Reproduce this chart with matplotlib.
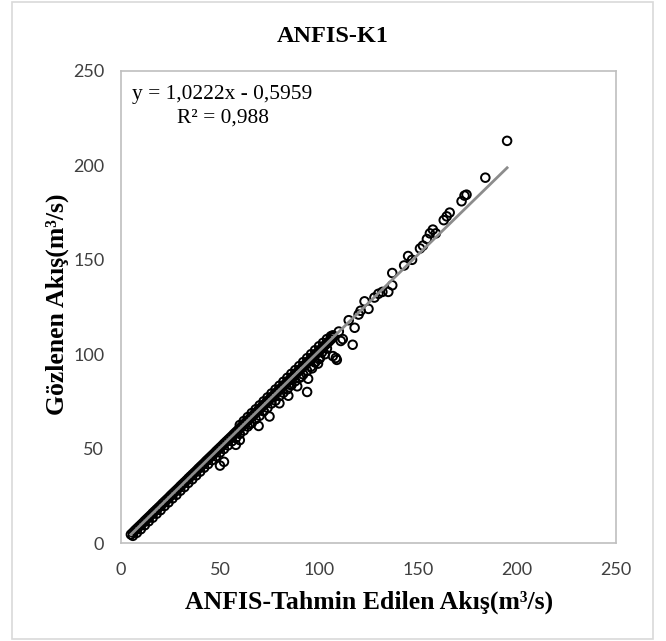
import matplotlib
matplotlib.use("Agg")
import matplotlib.pyplot as plt
from matplotlib.patches import Rectangle

# main band of points (predicted, observed)
band_pred = [5, 6, 7, 8, 9, 10, 11, 12, 13, 14, 15, 16, 17, 18, 19, 20, 21, 22, 23, 24,
             25, 26, 27, 28, 29, 30, 31, 32, 33, 34, 35, 36, 37, 38, 39, 40, 41, 42, 43, 44,
             45, 46, 47, 48, 49, 50, 51, 52, 53, 54, 55, 56, 57, 58, 59, 60, 61, 62, 63, 64,
             65, 66, 67, 68, 69, 70, 71, 72, 73, 74, 75, 76, 77, 78, 79, 80, 81, 82, 83, 84,
             85, 86, 87, 88, 89, 90, 91, 92, 93, 94, 95, 96, 97, 98, 99, 100, 101, 102, 103,
             104, 105, 106, 107]
band_obs = [4.5, 5.5, 6.6, 7.6, 8.6, 9.6, 10.6, 11.7, 12.7, 13.7, 14.7, 15.8, 16.8, 17.8,
            18.8, 19.8, 20.9, 21.9, 22.9, 23.9, 25.0, 26.0, 27.0, 28.0, 29.0, 30.1, 31.1,
            32.1, 33.1, 34.2, 35.2, 36.2, 37.2, 38.2, 39.3, 40.3, 41.3, 42.3, 43.4, 44.4,
            45.4, 46.4, 47.4, 48.5, 49.5, 50.5, 51.5, 52.6, 53.6, 54.6, 55.6, 56.6, 57.7,
            58.7, 59.7, 60.7, 61.8, 62.8, 63.8, 64.8, 65.8, 66.9, 67.9, 68.9, 69.9, 70.9,
            72.0, 73.0, 74.0, 75.0, 76.1, 77.1, 78.1, 79.1, 80.2, 81.2, 82.2, 83.2, 84.2,
            85.3, 86.3, 87.3, 88.3, 89.4, 90.4, 91.4, 92.4, 93.4, 94.5, 95.5, 96.5, 97.5,
            98.6, 99.6, 100.6, 101.6, 102.6, 103.7, 104.7, 105.7, 106.7, 107.8, 108.8]

low_pred = [6, 8, 10, 12, 14, 16, 18, 20, 22, 24, 26, 28, 30, 32, 34, 36, 38, 40, 42, 44,
            46, 48, 50, 52, 54, 56, 58, 60, 62, 64, 66, 68, 70, 72, 74, 76, 78, 80, 82, 84,
            86, 88, 90, 92, 94, 96, 98, 100]
low_obs = [3.8, 5.4, 7.3, 9.4, 11.5, 13.4, 15.5, 17.4, 19.6, 21.5, 23.6, 25.5, 27.7, 29.6,
           31.8, 33.7, 35.8, 37.8, 39.9, 41.8, 43.9, 45.9, 47.9, 49.8, 51.7, 53.9, 55.6,
           57.8, 59.6, 61.7, 63.5, 65.6, 67.4, 69.8, 71.6, 73.9, 75.4, 77.8, 79.6, 81.4,
           83.5, 85.7, 87.4, 89.3, 91.2, 93.4, 95.6, 97.4]

up_pred = [60, 62, 64, 66, 68, 70, 72, 74, 76, 78, 80, 82, 84, 86, 88, 90, 92, 94, 96, 98,
           100, 102, 104, 106]
up_obs = [62.5, 64.6, 66.7, 68.8, 70.8, 72.9, 75.0, 77.1, 79.2, 81.3, 83.3, 85.4, 87.5,
          89.6, 91.6, 93.7, 95.8, 97.9, 100.0, 102.1, 104.2, 106.0, 108.0, 109.5]

# scattered points
sc_pred = [195, 184, 173.5, 174.5, 172, 166, 164.5, 163, 157.5, 156, 154.5, 152.5, 151,
           145, 143, 137, 137, 135, 132, 125, 123, 121, 118, 117, 112, 111, 108.5, 109,
           100.5, 104, 96.5, 94.5, 94, 89, 84.5, 80, 75, 69.5, 60, 58, 52, 50, 115, 120,
           128, 130, 147, 159, 110, 107, 101.5, 107, 99.5, 86, 91, 98, 103, 72, 65]
sc_obs = [213, 193.5, 184, 184.5, 181, 175, 173, 171, 166, 164, 161, 157.5, 156, 152,
          147, 143, 136.5, 133, 133, 124, 128, 123, 114, 105, 108, 107, 98, 97, 98, 103,
          92.5, 87, 80, 83, 78, 74, 67, 62, 54.5, 52, 43, 41, 118, 121, 130, 132, 150,
          164, 112, 110, 101, 99, 95, 84, 88, 96, 100, 70, 63]

slope = 1.0222
intercept = -0.5959
r2 = 0.988

W, H = 666, 641
fig = plt.figure(figsize=(W / 100, H / 100), dpi=100)
ax = fig.add_axes([121 / W, 1 - 543 / H, (616 - 121) / W, (543 - 71) / H])

all_pred = band_pred + low_pred + up_pred + sc_pred
all_obs = band_obs + low_obs + up_obs + sc_obs
ax.scatter(all_pred, all_obs, s=38, facecolors="none", edgecolors="black",
           linewidths=1.4, zorder=2)

x0, x1 = min(all_pred), max(all_pred)
ax.plot([x0, x1], [slope * x0 + intercept, slope * x1 + intercept],
        color="#8c8c8c", lw=2, zorder=3)

ax.set_xlim(0, 250)
ax.set_ylim(0, 250)
ax.set_xticks([0, 50, 100, 150, 200, 250])
ax.set_yticks([0, 50, 100, 150, 200, 250])
for s in ax.spines.values():
    s.set_color("#bfbfbf")
    s.set_linewidth(1.2)
ax.tick_params(length=0, labelsize=13, labelcolor="#404040")
ax.tick_params(axis="x", pad=14)
ax.tick_params(axis="y", pad=12)
for lbl in ax.get_xticklabels() + ax.get_yticklabels():
    lbl.set_family("Lato")

serif = "Liberation Serif"
fig.text(0.5, 1 - 37 / H, "ANFIS-K1", ha="center", va="center",
         family=serif, weight="bold", fontsize=17.5)
fig.text(369 / W, 1 - 602 / H, "ANFIS-Tahmin Edilen Akış(m³/s)", ha="center",
         va="center", family=serif, weight="bold", fontsize=18.5)
fig.text(57 / W, 1 - 304 / H, "Gözlenen Akış(m³/s)", ha="center", va="center",
         rotation=90, family=serif, weight="bold", fontsize=18.5)

eq = "y = %sx - %s" % (f"{slope:.4f}".replace(".", ","), f"{-intercept:.4f}".replace(".", ","))
fig.text(132 / W, 1 - 95 / H, eq, ha="left", va="center", family=serif, fontsize=15.4)
fig.text(177 / W, 1 - 118 / H, "R² = " + f"{r2:.3f}".replace(".", ","), ha="left",
         va="center", family=serif, fontsize=15.4)

fig.patches.append(Rectangle((12 / W, 1 - 639 / H), (653 - 12) / W, (639 - 2) / H,
                             transform=fig.transFigure, fill=False,
                             edgecolor="#d9d9d9", lw=1.2))

fig.savefig("out.png", dpi=100)
